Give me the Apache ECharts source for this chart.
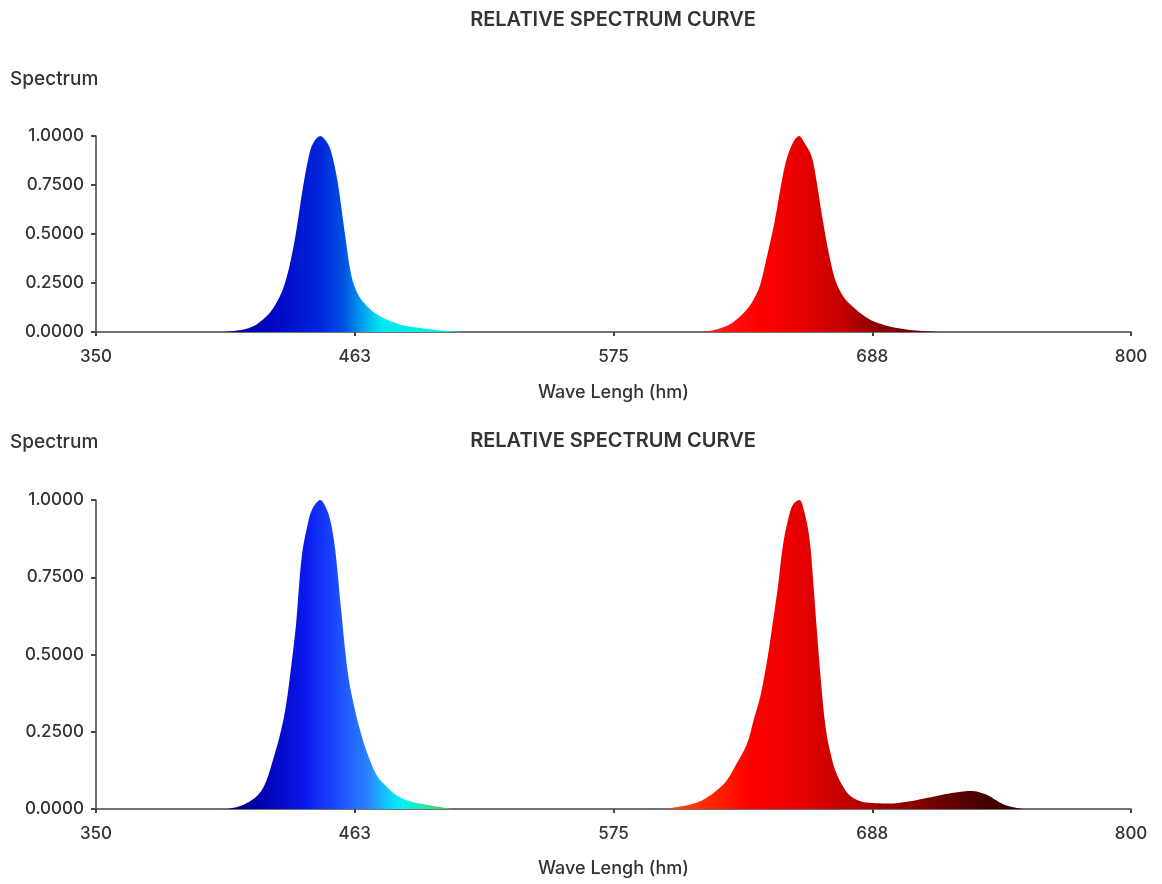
<!DOCTYPE html>
<html>
<head>
<meta charset="utf-8">
<script src="https://cdn.jsdelivr.net/npm/echarts@6/dist/echarts.min.js"></script>
<style>
html,body{margin:0;padding:0;background:#fff;}
#spectrum{width:1162px;height:884px;}
</style>
</head>
<body>
<div id="spectrum"></div>
<script>
const xTicks = [350, 462.5, 575, 687.5, 800]
const yTicks = [0, 0.25, 0.5, 0.75, 1]

const topBlueNm  = [405, 410, 415, 420, 425, 428, 431, 434, 437, 440, 443, 445, 447.5, 450, 452, 455, 458, 461, 464, 468, 472, 477, 485, 495, 503, 510]
const topBlueVal = [0, 0.005, 0.015, 0.04, 0.09, 0.14, 0.21, 0.33, 0.51, 0.74, 0.92, 0.975, 1.0, 0.975, 0.93, 0.77, 0.52, 0.29, 0.19, 0.13, 0.09, 0.06, 0.03, 0.014, 0.005, 0]

const topRedNm  = [613, 618, 623, 627, 631, 634, 637, 639, 642, 645, 648, 650, 653, 655.7, 658, 661, 663, 666, 669, 671.6, 675, 679, 683, 687, 693, 701, 709, 717]
const topRedVal = [0, 0.008, 0.025, 0.05, 0.09, 0.13, 0.19, 0.25, 0.4, 0.56, 0.76, 0.87, 0.965, 1.0, 0.965, 0.9, 0.79, 0.57, 0.38, 0.26, 0.18, 0.13, 0.09, 0.06, 0.035, 0.015, 0.005, 0]

const botBlueNm  = [407, 412, 417, 421, 424, 427, 430, 432.5, 435, 437, 439.5, 442, 444, 447.5, 450, 452, 454, 456.5, 459.5, 462, 465, 468, 472, 476, 480, 486, 492, 498, 505]
const botBlueVal = [0, 0.008, 0.025, 0.05, 0.09, 0.16, 0.24, 0.33, 0.47, 0.6, 0.82, 0.92, 0.97, 1.0, 0.975, 0.93, 0.84, 0.65, 0.44, 0.34, 0.25, 0.18, 0.11, 0.075, 0.048, 0.026, 0.016, 0.008, 0]

const botRedNm  = [597, 604, 610, 614, 619, 624, 628, 633, 636, 639, 642, 644, 646.5, 648.6, 651, 653, 655.8, 658, 660.3, 662, 663.4, 665, 667.3, 670, 672, 675, 678, 682, 686, 692, 698, 704, 710, 716, 722, 727, 731, 735, 738, 741, 744, 748, 753]
const botRedVal = [0, 0.008, 0.018, 0.03, 0.055, 0.09, 0.14, 0.21, 0.29, 0.37, 0.49, 0.59, 0.72, 0.85, 0.94, 0.985, 1.0, 0.96, 0.87, 0.72, 0.58, 0.43, 0.26, 0.16, 0.114, 0.07, 0.042, 0.026, 0.02, 0.018, 0.019, 0.025, 0.034, 0.043, 0.052, 0.057, 0.058, 0.052, 0.044, 0.03, 0.017, 0.007, 0]

function pairs(nm, val){
    return nm.map(function(x, i){ return [x, val[i]] })
}

function grad(stops){
    return new echarts.graphic.LinearGradient(0, 0, 1, 0, stops.map(function(s){
        return {offset: s[0], color: s[1]}
    }))
}

const font = 'Inter, "Liberation Sans", Arial, sans-serif'
const txtColor = '#333'

function xAxisOpt(idx){
    return {
        gridIndex: idx,
        type: 'value',
        min: xTicks[0],
        max: xTicks[xTicks.length - 1],
        interval: xTicks[1] - xTicks[0],
        name: 'Wave Lengh (hm)',
        nameLocation: 'middle',
        nameGap: idx === 0 ? 52 : 51,
        nameTextStyle: {color: txtColor, fontSize: 18, fontWeight: 500, fontFamily: font},
        axisLine: {lineStyle: {color: '#444', width: 1.5}},
        axisTick: {length: 4, lineStyle: {color: '#444', width: 2}},
        axisLabel: {
            color: txtColor, fontSize: 17, fontWeight: 500, fontFamily: font, margin: 16,
            formatter: function(v){ return Math.round(v) }
        },
        splitLine: {show: false}
    }
}

function yAxisOpt(idx){
    return {
        gridIndex: idx,
        type: 'value',
        min: yTicks[0],
        max: yTicks[yTicks.length - 1],
        interval: yTicks[1] - yTicks[0],
        axisLine: {show: true, lineStyle: {color: '#444', width: 1.5}},
        axisTick: {show: true, length: 5, lineStyle: {color: '#444', width: 2}},
        axisLabel: {
            color: txtColor, fontSize: 17, fontWeight: 500, fontFamily: font, margin: 12,
            formatter: function(v){ return v.toFixed(4) }
        },
        splitLine: {show: false}
    }
}

function areaSeries(idx, data, stops){
    return {
        type: 'line',
        xAxisIndex: idx,
        yAxisIndex: idx,
        data: data,
        smooth: 0.35,
        showSymbol: false,
        silent: true,
        lineStyle: {width: 0},
        areaStyle: {color: grad(stops), opacity: 1}
    }
}

const titleStyle = {color: txtColor, fontSize: 20, fontWeight: 600, fontFamily: font}
const nameStyle = {color: txtColor, fontSize: 19, fontWeight: 500, fontFamily: font}

let myChart = echarts.init(document.getElementById('spectrum'))
const option = {
    animation: false,
    backgroundColor: '#fff',
    title: [
        {text: 'RELATIVE SPECTRUM CURVE', left: 613, textAlign: 'center', top: 10, padding: 0, textStyle: titleStyle},
        {text: 'RELATIVE SPECTRUM CURVE', left: 613, textAlign: 'center', top: 431, padding: 0, textStyle: titleStyle},
        {text: 'Spectrum', left: 10, top: 70, padding: 0, textStyle: nameStyle},
        {text: 'Spectrum', left: 10, top: 433, padding: 0, textStyle: nameStyle}
    ],
    grid: [
        {left: 96, right: 31, top: 136, height: 196},
        {left: 96, right: 31, top: 500, height: 309}
    ],
    xAxis: [xAxisOpt(0), xAxisOpt(1)],
    yAxis: [yAxisOpt(0), yAxisOpt(1)],
    series: [
        areaSeries(0, pairs(topBlueNm, topBlueVal), [
            [0, '#0000a0'], [0.2, '#0005c0'], [0.4, '#0025dc'], [0.5, '#0050e0'],
            [0.58, '#00a0ee'], [0.66, '#00eaf0'], [1, '#00f0e0']
        ]),
        areaSeries(0, pairs(topRedNm, topRedVal), [
            [0, '#ff2020'], [0.25, '#ff0000'], [0.45, '#e00000'], [0.6, '#c00000'],
            [0.72, '#900000'], [1, '#600000']
        ]),
        areaSeries(1, pairs(botBlueNm, botBlueVal), [
            [0, '#000070'], [0.15, '#0000b0'], [0.35, '#0a1aee'], [0.5, '#1e50ff'],
            [0.62, '#2a80ff'], [0.72, '#10d0ff'], [0.78, '#00f5f0'], [0.9, '#30e090'], [1, '#50c840']
        ]),
        areaSeries(1, pairs(botRedNm, botRedVal), [
            [0, '#ff5010'], [0.15, '#ff2000'], [0.24, '#ff0000'], [0.37, '#e80000'],
            [0.47, '#cc0000'], [0.6, '#a00000'], [0.72, '#800000'], [0.85, '#500000'], [1, '#300000']
        ])
    ]
}
myChart.setOption(option)
</script>
</body>
</html>
